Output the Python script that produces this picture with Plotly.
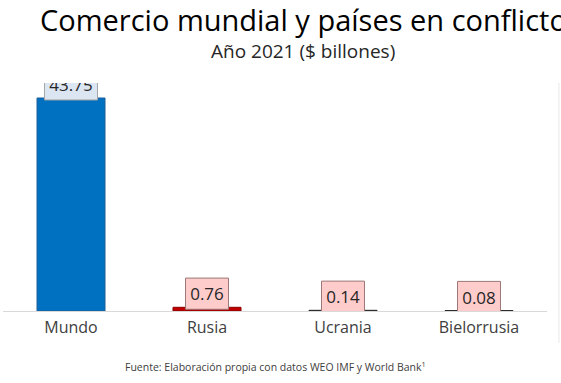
import plotly.graph_objects as go

categories = ["Mundo", "Rusia", "Ucrania", "Bielorrusia"]
values = [43.75, 0.76, 0.14, 0.08]
labels = ["43.75", "0.76", "0.14", "0.08"]

bar_colors = ["#0070C0", "#C00000", "#595959", "#595959"]
bar_lines = ["#1F5E99", "#8B0000", "#262626", "#262626"]
box_fill = ["#DCE6F2", "#FFCCCC", "#FFCCCC", "#FFCCCC"]
box_line = ["#A6A6A6", "#9C7878", "#9C7878", "#9C7878"]
box_width = [0.39, 0.316, 0.316, 0.316]

BOX_H = 6.4      # label box height in data units
BOX_OFF = 0.4    # box starts slightly below bar top
TXT_OFF = 2.3    # text center above bar top

fig = go.Figure()
fig.add_trace(go.Bar(
    x=categories, y=values, width=0.5,
    marker=dict(color=bar_colors, line=dict(color=bar_lines, width=1)),
    hoverinfo="skip", showlegend=False,
))
fig.add_trace(go.Bar(
    x=categories, y=[BOX_H] * len(values), base=[v - BOX_OFF for v in values],
    width=box_width,
    marker=dict(color=box_fill, line=dict(color=box_line, width=1)),
    hoverinfo="skip", showlegend=False,
))
fig.add_trace(go.Scatter(
    x=categories, y=[v + TXT_OFF for v in values], mode="text",
    text=labels, textposition="middle center",
    textfont=dict(family="Open Sans", size=17, color="#262626"),
    cliponaxis=True, hoverinfo="skip", showlegend=False,
))

fig.update_layout(
    width=561, height=383,
    margin=dict(l=3, r=14, t=83, b=72),
    paper_bgcolor="white", plot_bgcolor="white",
    barmode="overlay",
    font=dict(family="Open Sans", color="#404040"),
    xaxis=dict(showline=True, linecolor="#D9D9D9", linewidth=1,
               showgrid=False, zeroline=False, ticks="", ticklabelstandoff=2,
               tickfont=dict(size=16, color="#404040"), fixedrange=True),
    yaxis=dict(range=[0, 46.83], visible=False, showgrid=False, zeroline=False),
    annotations=[
        dict(text="Comercio mundial y países en conflicto", xref="paper", yref="paper",
             x=0.5515, y=1.277, xanchor="center", yanchor="middle", showarrow=False,
             font=dict(size=29, color="#000000")),
        dict(text="Año 2021 ($ billones)", xref="paper", yref="paper",
             x=0.5515, y=1.142, xanchor="center", yanchor="middle", showarrow=False,
             font=dict(size=19, color="#262626")),
        dict(text="Fuente: Elaboración propia con datos WEO IMF y World Bank<sup>1</sup>",
             xref="paper", yref="paper", x=0.5, y=-0.245, xanchor="center", yanchor="middle",
             showarrow=False, font=dict(size=10.5, color="#404040")),
    ],
    shapes=[dict(type="line", xref="paper", yref="paper", x0=1.022, x1=1.022,
                 y0=-0.14, y1=1.0, line=dict(color="#E8E8E8", width=1))],
)

fig.write_html("out.html", config={"displayModeBar": False},
               post_script="document.body.style.margin='0';")
